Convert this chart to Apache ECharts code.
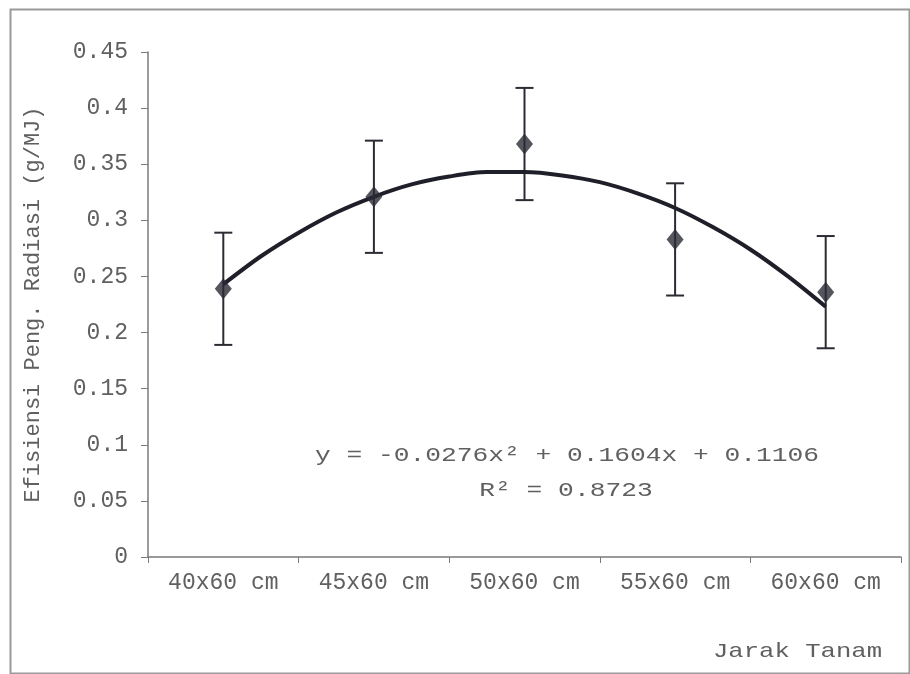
<!DOCTYPE html>
<html>
<head>
<meta charset="utf-8">
<script src="https://cdn.jsdelivr.net/npm/echarts@6/dist/echarts.min.js"></script>
<style>html,body{margin:0;padding:0;background:#fff}#c{width:910px;height:674px}</style>
</head>
<body>
<div id="c"></div>
<script>
// ---- data ----
const categories = ['40x60 cm', '45x60 cm', '50x60 cm', '55x60 cm', '60x60 cm'];
const meanValues = [0.239, 0.321, 0.368, 0.283, 0.236];
const errLow    = [0.189, 0.271, 0.318, 0.233, 0.186];
const errHigh   = [0.289, 0.371, 0.418, 0.333, 0.286];
// polynomial trendline y = -0.0276x^2 + 0.1604x + 0.1106
const trendX = [1, 1.25, 1.5, 1.75, 2, 2.25, 2.5, 2.75, 3, 3.25, 3.5, 3.75, 4, 4.25, 4.5, 4.75, 5];
const trendY = [0.243, 0.268, 0.289, 0.307, 0.321, 0.332, 0.339, 0.343, 0.343, 0.340, 0.334, 0.324, 0.311, 0.294, 0.274, 0.250, 0.223];
const yTicks = { min: 0, max: 0.45, interval: 0.05 };
const equationText = 'y = -0.0276x\u00B2 + 0.1604x + 0.1106';
const r2Text = 'R\u00B2 = 0.8723';
const yTitle = 'Efisiensi Peng. Radiasi (g/MJ)';
const xTitle = 'Jarak Tanam';

const FONT = '"Liberation Mono", "DejaVu Sans Mono", monospace';
const TXT = '#606060';
const AX = '#7a7a7a';

const chart = echarts.init(document.getElementById('c'), null, { renderer: 'canvas' });

const pts = meanValues.map((v, i) => [i + 1, v]);
const errs = errLow.map((lo, i) => [i + 1, lo, errHigh[i]]);
const trend = trendX.map((x, i) => [x, trendY[i]]);

chart.setOption({
  backgroundColor: '#ffffff',
  animation: false,
  grid: { left: 148, right: 9, top: 52, bottom: 117, containLabel: false },
  xAxis: [
    {
      type: 'category', data: categories, boundaryGap: true, position: 'bottom',
      axisLine: { lineStyle: { color: AX, width: 1.5 } },
      axisTick: { show: true, length: 6, inside: false, lineStyle: { color: AX } },
      axisLabel: { fontFamily: FONT, fontSize: 23, color: TXT, margin: 14 },
      splitLine: { show: false }
    },
    {
      type: 'value', min: 0.5, max: 5.5, show: false, position: 'bottom',
      splitLine: { show: false }
    }
  ],
  yAxis: {
    type: 'value', min: yTicks.min, max: yTicks.max, interval: yTicks.interval,
    name: yTitle, nameLocation: 'middle', nameGap: 104, nameRotate: 90,
    nameTextStyle: { fontFamily: FONT, fontSize: 22, color: TXT },
    axisLine: { show: true, lineStyle: { color: AX, width: 1.5 } },
    axisTick: { show: true, length: 7, lineStyle: { color: AX } },
    axisLabel: { fontFamily: FONT, fontSize: 23, color: TXT, margin: 20 },
    splitLine: { show: false }
  },
  series: [
    {
      type: 'custom', xAxisIndex: 1, data: errs, z: 3,
      renderItem: function (params, api) {
        const x = api.value(0);
        const top = api.coord([x, api.value(2)]);
        const bot = api.coord([x, api.value(1)]);
        const w = 9;
        const st = { stroke: '#2b2b33', lineWidth: 2 };
        return {
          type: 'group', children: [
            { type: 'line', shape: { x1: top[0], y1: top[1], x2: bot[0], y2: bot[1] }, style: st },
            { type: 'line', shape: { x1: top[0] - w, y1: top[1], x2: top[0] + w, y2: top[1] }, style: st },
            { type: 'line', shape: { x1: bot[0] - w, y1: bot[1], x2: bot[0] + w, y2: bot[1] }, style: st }
          ]
        };
      }
    },
    {
      type: 'line', xAxisIndex: 1, data: trend, smooth: 0.3, showSymbol: false, z: 4,
      lineStyle: { color: '#1f1f29', width: 4 }
    },
    {
      type: 'scatter', xAxisIndex: 1, data: pts, z: 5,
      symbol: 'diamond', symbolSize: [17, 21],
      itemStyle: { color: '#2a2a34' }
    }
  ],
  graphic: [
    {
      type: 'rect', left: 8, top: 7, z: -1,
      shape: { width: 899, height: 664 },
      style: { fill: 'none', stroke: '#9a9a9a', lineWidth: 2 }
    },
    {
      type: 'text', x: 567, y: 455, scaleX: 1.25,
      style: { text: equationText, font: '21px ' + FONT, fill: TXT, textAlign: 'center', textVerticalAlign: 'middle' }
    },
    {
      type: 'text', x: 566, y: 490, scaleX: 1.25,
      style: { text: r2Text, font: '21px ' + FONT, fill: TXT, textAlign: 'center', textVerticalAlign: 'middle' }
    },
    {
      type: 'text', x: 882, y: 651, scaleX: 1.22,
      style: { text: xTitle, font: '21px ' + FONT, fill: TXT, textAlign: 'right', textVerticalAlign: 'middle' }
    }
  ]
});
</script>
</body>
</html>
